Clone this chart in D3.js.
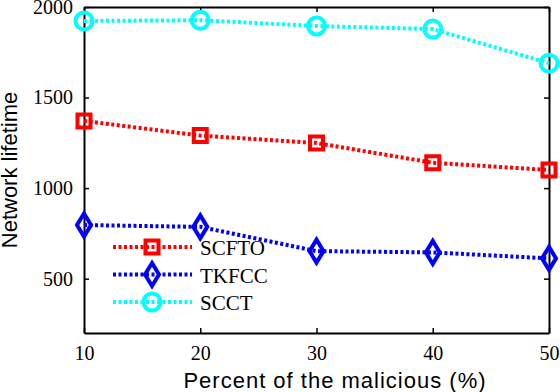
<!DOCTYPE html>
<html lang="en">
<head>
    <meta charset="UTF-8">
    <title>Network lifetime</title>
    <script src="https://d3js.org/d3.v7.min.js"></script>
    <style>
        body{ margin: 0; background: white; }
        .serif{ font-family: 'Liberation Serif', 'Times New Roman', Times, serif; }
        .sans{ font-family: 'Liberation Sans', Arial, Helvetica, sans-serif; }
    </style>
</head>
<body>
<script>
    // data
    const percents = [10, 20, 30, 40, 50]
    const scfto = [1371, 1290, 1249, 1140, 1100]
    const tkfcc = [796, 786, 652, 645, 612]
    const scct = [1923, 1927, 1895, 1878, 1690]
    const yTicks = [500, 1000, 1500, 2000]
    const seriesNames = ["SCFTO", "TKFCC", "SCCT"]
    const seriesColors = ["#ff0000", "#0000ff", "#00ffff"]
    const seriesShapes = ["square", "diamond", "circle"]

    const W = 560, H = 392
    const padL = 84, padR = 549, padT = 7, padB = 333

    const svg = d3.select("body").append("svg")
        .attr("width", W).attr("height", H)

    const x = d3.scaleLinear().domain([10, 50]).range([padL, padR])
    const y = d3.scaleLinear().domain([200, 2000]).range([padB, padT])

    // axes, ticks pointing inward
    svg.append("g").attr("transform", `translate(0,${padB})`)
        .call(d3.axisBottom(x).tickValues(percents).tickSizeInner(-5).tickSizeOuter(0).tickPadding(13).tickFormat(d3.format("d")))
    svg.append("g").attr("transform", `translate(0,${padT})`)
        .call(d3.axisTop(x).tickValues(percents).tickSizeInner(-5).tickSizeOuter(0).tickFormat(""))
    svg.append("g").attr("transform", `translate(${padL},0)`)
        .call(d3.axisLeft(y).tickValues(yTicks).tickSizeInner(-5).tickSizeOuter(0).tickPadding(11).tickFormat(d3.format("d")))
    svg.append("g").attr("transform", `translate(${padR},0)`)
        .call(d3.axisRight(y).tickValues(yTicks).tickSizeInner(-5).tickSizeOuter(0).tickFormat(""))
    svg.selectAll(".domain").attr("stroke", "black").attr("stroke-width", 2)
    svg.selectAll(".tick line").attr("stroke", "black").attr("stroke-width", 1.5)
    svg.selectAll(".tick text").attr("fill", "black")
        .attr("class", "serif").style("font-size", "20px")

    // tall diamond like the matlab marker
    const tallDiamond = {
        draw(ctx, size) {
            const w = 7, h = 11.5
            ctx.moveTo(0, -h); ctx.lineTo(w, 0); ctx.lineTo(0, h); ctx.lineTo(-w, 0); ctx.closePath()
        }
    }
    const symbolFor = {
        square: d3.symbol().type(d3.symbolSquare).size(169),
        diamond: d3.symbol().type(tallDiamond),
        circle: d3.symbol().type(d3.symbolCircle).size(227)
    }

    const allSeries = [scfto, tkfcc, scct]
    const line = d3.line().x((d, i) => x(percents[i])).y(d => y(d))

    allSeries.forEach(function(vals, k) {
        svg.append("path")
            .attr("d", line(vals))
            .attr("fill", "none")
            .attr("stroke", seriesColors[k])
            .attr("stroke-width", 4)
            .attr("stroke-dasharray", "3,2.5")
        svg.selectAll(".m" + k)
            .data(vals)
            .enter()
            .append("path")
            .attr("class", "m" + k)
            .attr("d", symbolFor[seriesShapes[k]])
            .attr("transform", (d, i) => `translate(${x(percents[i])},${y(d)})`)
            .attr("fill", "none")
            .attr("stroke", seriesColors[k])
            .attr("stroke-width", 4)
    })

    // legend
    const legend = svg.append("g")
    seriesNames.forEach(function(name, k) {
        const ly = 247 + k * 27.5
        legend.append("line")
            .attr("x1", 113).attr("x2", 192).attr("y1", ly).attr("y2", ly)
            .attr("stroke", seriesColors[k]).attr("stroke-width", 4)
            .attr("stroke-dasharray", "3,2.5")
        legend.append("path")
            .attr("d", symbolFor[seriesShapes[k]])
            .attr("transform", `translate(152,${ly})`)
            .attr("fill", "none")
            .attr("stroke", seriesColors[k])
            .attr("stroke-width", 4)
        legend.append("text")
            .attr("class", "serif")
            .attr("x", 200).attr("y", ly + 8)
            .style("font-size", "21px")
            .text(name)
    })

    // axis labels
    svg.append("text")
        .attr("class", "sans")
        .attr("x", 335).attr("y", 388)
        .attr("text-anchor", "middle")
        .style("font-size", "22px")
        .attr("letter-spacing", 1)
        .text("Percent of the malicious (%)")
    svg.append("text")
        .attr("class", "sans")
        .attr("transform", `translate(17,170) rotate(-90)`)
        .attr("text-anchor", "middle")
        .style("font-size", "22px")
        .text("Network lifetime")
</script>
</body>
</html>
